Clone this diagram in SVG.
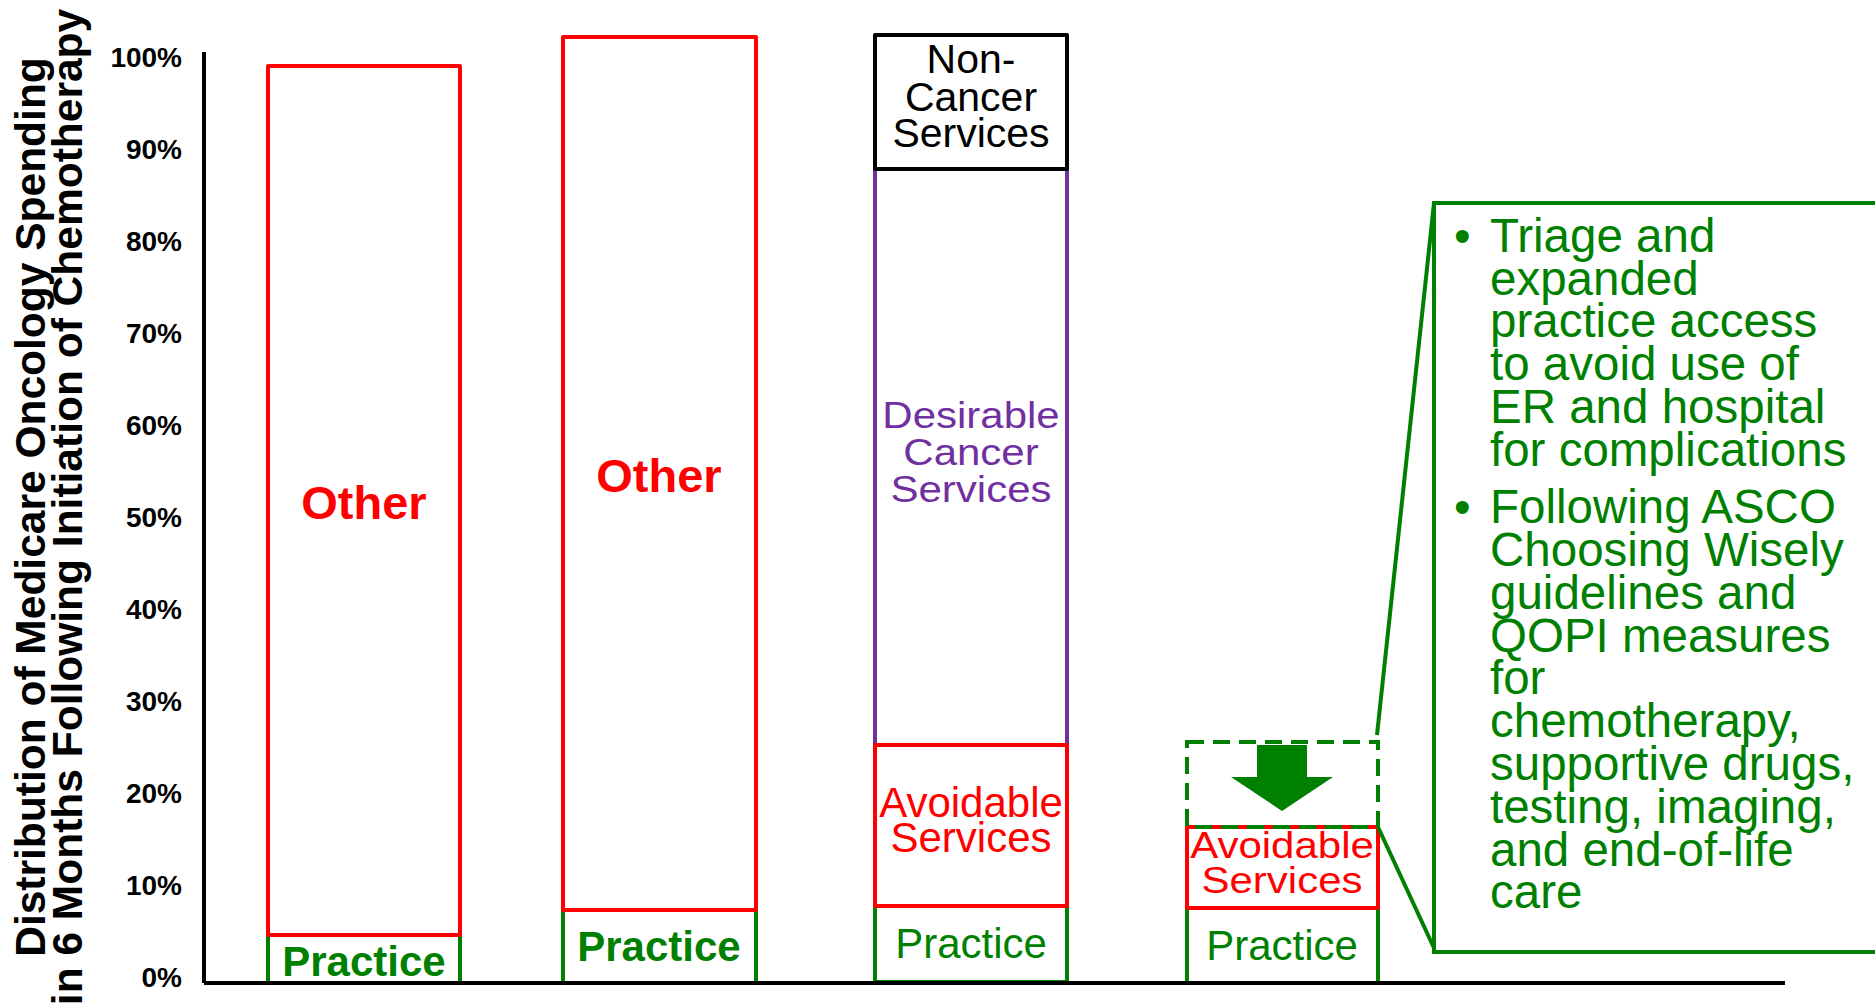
<svg xmlns="http://www.w3.org/2000/svg" width="1875" height="1007" viewBox="0 0 1875 1007">
<style>
text{font-family:"Liberation Sans",Arial,sans-serif}
.b{font-weight:bold}
.tick{font-size:28px;font-weight:bold;text-anchor:end;fill:#000}
.title{font-size:42.5px;font-weight:bold;text-anchor:middle;fill:#000}
.bx{fill:#fff;stroke-width:4;stroke-linejoin:round}
.red{stroke:#FF0000}.grn{stroke:#008000}.pur{stroke:#7030A0}.blk{stroke:#000}
.c{text-anchor:middle}
.tr{fill:#FF0000}.tg{fill:#008000}.tp{fill:#7030A0}.tk{fill:#000}
.cl{font-size:47.5px;fill:#008000}
</style>
<rect width="1875" height="1007" fill="#fff"/>
<g id="y-axis-title">
<text class="title" transform="translate(45,507) rotate(-90)">Distribution of Medicare Oncology Spending</text>
<text class="title" transform="translate(82,507) rotate(-90)">in 6 Months Following Initiation of Chemotherapy</text>
</g>
<g id="y-ticks">
<text class="tick" x="182" y="67">100%</text>
<text class="tick" x="182" y="159">90%</text>
<text class="tick" x="182" y="251">80%</text>
<text class="tick" x="182" y="343">70%</text>
<text class="tick" x="182" y="435">60%</text>
<text class="tick" x="182" y="527">50%</text>
<text class="tick" x="182" y="619">40%</text>
<text class="tick" x="182" y="711">30%</text>
<text class="tick" x="182" y="803">20%</text>
<text class="tick" x="182" y="895">10%</text>
<text class="tick" x="182" y="987">0%</text>
</g>
<g id="bar1">
<rect class="bx grn" x="268" y="935" width="192" height="48"/>
<rect class="bx red" x="268" y="66" width="192" height="869"/>
<text class="b c tr" x="364" y="519" font-size="47">Other</text>
<text class="b c tg" x="364" y="976" font-size="42">Practice</text>
</g>
<g id="bar2">
<rect class="bx grn" x="563" y="910" width="193" height="73"/>
<rect class="bx red" x="563" y="37" width="193" height="873"/>
<text class="b c tr" x="659" y="492" font-size="47">Other</text>
<text class="b c tg" x="659" y="961" font-size="42">Practice</text>
</g>
<g id="bar3">
<rect class="bx pur" x="875" y="169" width="192" height="576"/>
<rect class="bx grn" x="875" y="906" width="192" height="76"/>
<rect class="bx blk" x="875" y="35" width="192" height="134"/>
<rect class="bx red" x="875" y="745" width="192" height="161"/>
<text class="c tk" font-size="41"><tspan x="971" y="73">Non-</tspan><tspan x="971" y="111">Cancer</tspan><tspan x="971" y="147">Services</tspan></text>
<g transform="translate(971,0) scale(1,0.87)">
<text class="c tp" font-size="42"><tspan x="0" y="492">Desirable</tspan><tspan x="0" y="534.5">Cancer</tspan><tspan x="0" y="577">Services</tspan></text>
</g>
<text class="c tr" font-size="42"><tspan x="971" y="817">Avoidable</tspan><tspan x="971" y="852">Services</tspan></text>
<text class="c tg" x="971" y="958" font-size="42">Practice</text>
</g>
<g id="bar4">
<rect class="bx grn" x="1187" y="908" width="191" height="75"/>
<rect class="bx red" x="1187" y="827" width="191" height="81"/>
<rect x="1187" y="742" width="191" height="85" fill="none" stroke="#008000" stroke-width="4" stroke-dasharray="17,9"/>
<polygon points="1257,745 1307,745 1307,777 1333,777 1282,811 1231,777 1257,777" fill="#008000"/>
<g transform="translate(1282,0) scale(1,0.87)">
<text class="c tr" font-size="42"><tspan x="0" y="986">Avoidable</tspan><tspan x="0" y="1026.5">Services</tspan></text>
</g>
<text class="c tg" x="1282" y="960" font-size="42">Practice</text>
</g>
<g id="callout">
<rect x="1434" y="203" width="520" height="749" fill="#fff" stroke="#008000" stroke-width="4"/>
<text class="cl" x="1454" y="252">•</text>
<text class="cl"><tspan x="1490" y="252">Triage and</tspan><tspan x="1490" y="295">expanded</tspan><tspan x="1490" y="337">practice access</tspan><tspan x="1490" y="380">to avoid use of</tspan><tspan x="1490" y="423">ER and hospital</tspan><tspan x="1490" y="466">for complications</tspan></text>
<text class="cl" x="1454" y="523">•</text>
<text class="cl"><tspan x="1490" y="523">Following ASCO</tspan><tspan x="1490" y="566">Choosing Wisely</tspan><tspan x="1490" y="609">guidelines and</tspan><tspan x="1490" y="652">QOPI measures</tspan><tspan x="1490" y="694">for</tspan><tspan x="1490" y="737">chemotherapy,</tspan><tspan x="1490" y="780">supportive drugs,</tspan><tspan x="1490" y="823">testing, imaging,</tspan><tspan x="1490" y="866">and end-of-life</tspan><tspan x="1490" y="908">care</tspan></text>
</g>
<g id="connectors" fill="none" stroke-width="4">
<line x1="204" y1="52" x2="204" y2="983" stroke="#000"/>
<line x1="204" y1="983" x2="1785" y2="983" stroke="#000"/>
<line x1="1377" y1="735" x2="1434" y2="203" stroke="#008000"/>
<line x1="1378" y1="827" x2="1434" y2="948" stroke="#008000"/>
</g>
</svg>
